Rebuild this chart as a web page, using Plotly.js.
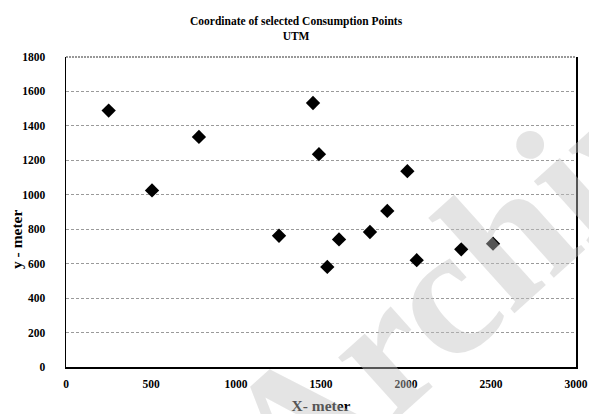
<!DOCTYPE html>
<html>
<head>
<meta charset="utf-8">
<script src="https://cdn.plot.ly/plotly-3.0.1.min.js"></script>
<style>html,body{margin:0;padding:0;background:#fff;}#chart{width:589px;height:414px;}</style>
</head>
<body>
<div id="chart"></div>
<script>
const xValues = [251, 506, 782, 1253, 1453, 1488, 1537, 1606, 1788, 1890, 2008, 2063, 2325, 2512];
const yValues = [1489, 1025, 1336, 762, 1533, 1236, 581, 741, 784, 906, 1137, 620, 683, 716];
const pointColors = ['#000','#000','#000','#000','#000','#000','#000','#000','#000','#000','#000','#000','#000','#000'];
const xTicks = [0, 500, 1000, 1500, 2000, 2500, 3000];
const yTicks = [0, 200, 400, 600, 800, 1000, 1200, 1400, 1600, 1800];
const titleLines = ['Coordinate of selected Consumption Points', 'UTM'];
const xTitle = 'X- meter';
const yTitle = 'y - meter';
const watermark = 'Archive';

const fam = '"Liberation Serif", "Times New Roman", serif';

const data = [{
  type: 'scatter', mode: 'markers',
  x: xValues, y: yValues,
  marker: {symbol: 'diamond', size: 11, color: pointColors, line: {width: 0}},
  hoverinfo: 'none', showlegend: false
}];

const layout = {
  width: 589, height: 414,
  margin: {l: 66, r: 13, t: 57, b: 47},
  paper_bgcolor: '#fff', plot_bgcolor: '#fff',
  font: {family: fam, color: '#000'},
  xaxis: {
    range: [0, 3000], tickvals: xTicks, ticktext: xTicks.map(v => '<b>' + v + '</b>'),
    showgrid: false, zeroline: false, showline: true, linecolor: '#000', linewidth: 1.5,
    ticks: '', ticklabelstandoff: 6, tickfont: {family: fam, size: 11.5, color: '#000'},
    title: {text: '<b>' + xTitle + '</b>', font: {family: fam, size: 15.5, color: '#000'}, standoff: 13},
    fixedrange: true
  },
  yaxis: {
    range: [0, 1800], tickvals: yTicks, ticktext: yTicks.map(v => '<b>' + v + '</b>'),
    showgrid: true, gridcolor: '#9a9a9a', griddash: '3px,2px', gridwidth: 1,
    zeroline: false, showline: true, linecolor: '#000', linewidth: 1.5, mirror: true,
    ticks: '', ticklabelstandoff: 17, tickfont: {family: fam, size: 11.5, color: '#000'},
    fixedrange: true
  },
  shapes: [{type: 'line', xref: 'paper', yref: 'paper', x0: 0, x1: 1, y0: 1, y1: 1,
            line: {color: '#777', width: 1.5, dash: '2px,1px'}}],
  annotations: [
    {text: '<b>' + titleLines.join('<br>') + '</b>', xref: 'paper', yref: 'paper',
     x: (296 - 66) / 510, y: (367 - 13) / 310, xanchor: 'center', yanchor: 'top', showarrow: false,
     font: {family: fam, size: 11.5, color: '#000'}},
    {text: '<b>' + yTitle + '</b>', xref: 'paper', yref: 'paper', x: (16 - 66) / 510, y: (367 - 240) / 310,
     xanchor: 'center', yanchor: 'middle', textangle: -90, showarrow: false,
     font: {family: fam, size: 15.5, color: '#000'}},
    {text: '<b>' + watermark + '</b>', xref: 'paper', yref: 'paper',
     x: 0.815, y: 0.35, xanchor: 'center', yanchor: 'middle',
     showarrow: false, textangle: -42,
     font: {family: fam, size: 185, color: 'rgba(193,193,193,0.44)'}}
  ]
};

Plotly.newPlot('chart', data, layout, {displayModeBar: false, staticPlot: true});
</script>
</body>
</html>
